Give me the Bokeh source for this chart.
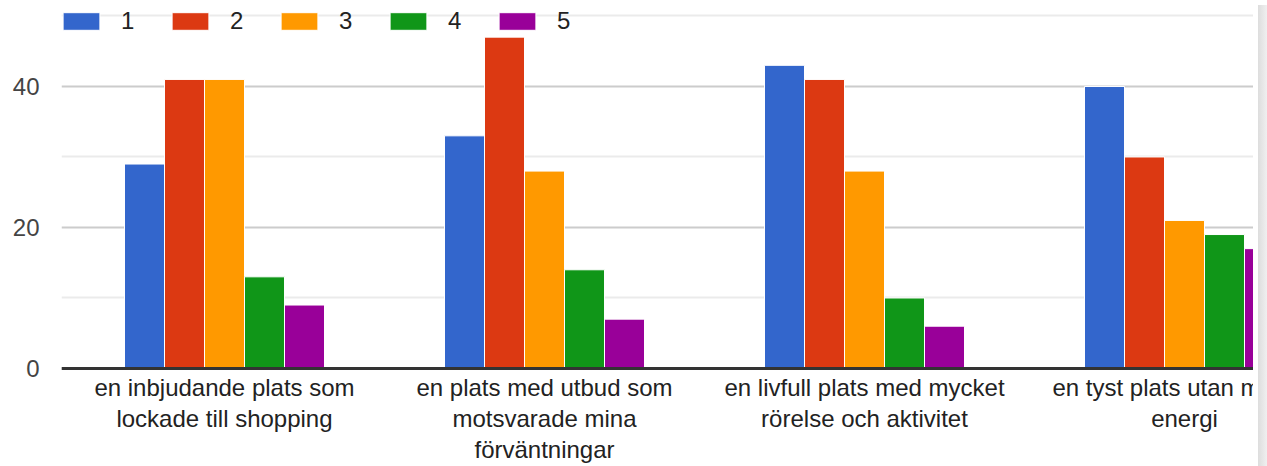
from bokeh.plotting import figure
from bokeh.models import (ColumnDataSource, FixedTicker, Range1d, Legend, LegendItem, Div, Span)
from bokeh.layouts import row
from bokeh.transform import dodge
from bokeh.core.properties import value
from bokeh.embed import file_html
from bokeh.resources import INLINE

categories = [
    "en inbjudande plats som\nlockade till shopping",
    "en plats med utbud som\nmotsvarade mina\nförväntningar",
    "en livfull plats med mycket\nrörelse och aktivitet",
    "en tyst plats utan mycket\nenergi",
]
series_names = ["1", "2", "3", "4", "5"]
s1 = [29, 33, 43, 40]
s2 = [41, 47, 41, 30]
s3 = [41, 28, 28, 21]
s4 = [13, 14, 10, 19]
s5 = [9, 7, 6, 17]
colors = ["#3366cc", "#dc3912", "#ff9900", "#109618", "#990099"]
y_ticks = [0, 20, 40]
y_minor = [10, 30, 50]

x_pos = [i + 0.5 for i in range(len(categories))]
src = ColumnDataSource(dict(x=x_pos, s1=s1, s2=s2, s3=s3, s4=s4, s5=s5))

FONT = "Liberation Sans"

# the frame also covers the category-label strip below zero so that the last
# label is clipped at the right edge, as in the reference
p = figure(output_backend="svg", toolbar_location=None,
           frame_width=1192, frame_height=458,
           min_border_left=61, min_border_right=0, min_border_top=8, min_border_bottom=0,
           x_range=Range1d(-0.009375, 3.715625), y_range=Range1d(-13.9, 51.06),
           outline_line_color=None)

bw = 0.125
offsets = [-0.25, -0.125, 0.0, 0.125, 0.25]
items = []
for name, col, off, c in zip(series_names, ["s1", "s2", "s3", "s4", "s5"], offsets, colors):
    r = p.vbar(x=dodge("x", off), top=col, bottom=0, width=bw, source=src,
               fill_color=c, line_color="white", line_width=1)
    items.append(LegendItem(label=name, renderers=[r]))

legend = Legend(items=items, orientation="horizontal", location=(-3, 431),
                margin=0, padding=0, spacing=26,
                glyph_width=46, glyph_height=22, label_standoff=17, label_width=20,
                label_height=22,
                label_text_font=FONT, label_text_font_size="24px", label_text_color="#222222",
                background_fill_alpha=0, border_line_alpha=0)
p.add_layout(legend)

# grid
p.xgrid.grid_line_color = None
p.yaxis.ticker = FixedTicker(ticks=y_ticks, minor_ticks=y_minor)
p.ygrid.grid_line_color = "#cccccc"
p.ygrid.grid_line_width = 2
p.ygrid.minor_grid_line_color = "#ebebeb"
p.ygrid.minor_grid_line_width = 2

# baseline
p.add_layout(Span(location=0, dimension="width", line_color="#333333", line_width=3))

# y axis
p.yaxis.axis_line_color = None
p.yaxis.major_tick_line_color = None
p.yaxis.minor_tick_line_color = None
p.yaxis.major_label_standoff = 16
p.yaxis.major_label_text_font = FONT
p.yaxis.major_label_text_font_size = "24px"
p.yaxis.major_label_text_color = "#444444"

p.xaxis.visible = False

# category labels
lab_src = ColumnDataSource(dict(x=x_pos, y=[-0.85] * len(x_pos), text=categories))
p.text(x="x", y="y", text="text", source=lab_src, text_align="center",
       text_baseline="top", text_font=value(FONT), text_font_size="24px",
       text_color="#222222", text_line_height=1.13)

shadow = Div(width=12, height=466,
             styles={"background": "linear-gradient(to right, #dddddd, #f6f6f6)"})

layout = row(p, shadow, spacing=0)

open("out.html", "w").write(file_html(layout, INLINE))
